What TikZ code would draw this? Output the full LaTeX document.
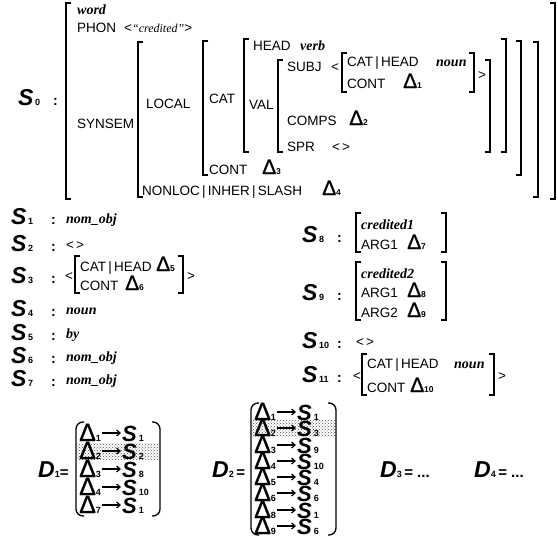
\documentclass[tikz,border=0pt]{standalone}
\usepackage{fontspec}
\setmainfont{Liberation Serif}
\newfontfamily\featfont{Liberation Sans}
\newfontfamily\labfont{Liberation Sans}
\newfontfamily\trifont[FakeBold=0.9]{Liberation Sans}
\usepackage{tikz}
\usetikzlibrary{arrows.meta,patterns}
\newcommand{\dl}[1]{{\trifont\fontsize{21}{21}\selectfont Δ}{\fontsize{8.5}{9}\selectfont\bfseries #1}}
\newcommand{\stag}[1]{{\fontsize{23}{23}\selectfont\bfseries\itshape S}\kern1.5pt{\fontsize{9}{9}\selectfont\bfseries #1}}
\newcommand{\dtag}[1]{{\fontsize{23}{23}\selectfont\bfseries\itshape D}{\fontsize{9}{9}\selectfont\bfseries #1}}
\newcommand{\bigdl}[1]{{\trifont\fontsize{25}{25}\selectfont Δ}{\fontsize{9}{9}\selectfont\bfseries #1}}
\newcommand{\bigs}[1]{{\fontsize{22}{22}\selectfont\bfseries\itshape S}\kern2pt{\fontsize{9}{9}\selectfont\bfseries #1}}

\begin{document}
\begin{tikzpicture}[
x=1pt,y=-1pt,
feat/.style={font=\featfont\fontsize{13.5}{15}\selectfont,anchor=base west,inner sep=0pt},
typ/.style={font=\bfseries\itshape\fontsize{14}{15}\selectfont,anchor=base west,inner sep=0pt},
tag/.style={font=\labfont,anchor=base west,inner sep=0pt},
colon/.style={font=\labfont\bfseries\fontsize{14}{14}\selectfont,anchor=base west,inner sep=0pt},
brk/.style={line width=1.2pt},
paren/.style={line width=1.3pt,rounded corners=7pt},
ent/.style={font=\labfont,anchor=west,inner sep=1pt,text height=17pt,text depth=1pt},
darr/.style={-{Straight Barb[length=3.5pt,width=6pt]},line width=1.2pt},
shade/.style={pattern=crosshatch dots,pattern color=black!70}
]
\useasboundingbox (0,0) rectangle (558,542);

% S0
\node[tag] (s0) at (18,105) {\stag{0}};
\node[colon] (s0c) at (53,105) {:};
\draw[brk] (71,3) -| (66,199) -- (71,199);
\draw[brk] (550,3) -| (555,199) -- (550,199);
\node[typ] (word) at (77,14) {word};
\node[feat] (phon) at (77,32) {PHON};
\node[feat] (phonv) at (124,32) {<{\rmfamily\itshape\fontsize{12}{13}\selectfont “credited”}>};
\node[feat] (synsem) at (77,128) {SYNSEM};
\draw[brk] (143,42) -| (138,197) -- (143,197);
\draw[brk] (533,42) -| (538,197) -- (533,197);
\node[feat] (local) at (146,108) {LOCAL};
\draw[brk] (208,41) -| (203,175) -- (208,175);
\draw[brk] (516,41) -| (521,175) -- (516,175);
\node[feat] (cat) at (209,103) {CAT};
\draw[brk] (249,39) -| (244,152) -- (249,152);
\draw[brk] (501,39) -| (506,152) -- (501,152);
\node[feat] (head) at (253,50) {HEAD};
\node[typ] (verb) at (300,50) {verb};
\node[feat] (val) at (249,109) {VAL};
\draw[brk] (283,60) -| (278,152) -- (283,152);
\draw[brk] (485,60) -| (490,152) -- (485,152);
\node[feat] (subj) at (287,71) {SUBJ};
\node[feat] (subjl) at (331,71) {<};
\draw[brk] (347,53) -| (342,92) -- (347,92);
\draw[brk] (469,53) -| (474,92) -- (469,92);
\node[feat] (cathead) at (347,66) {CAT\,|\,HEAD};
\node[typ] (noun1) at (436,66) {noun};
\node[feat] (cont1) at (347,88) {CONT};
\node[feat] (d1) at (403,88) {\dl{1}};
\node[feat] (subjr) at (478,79) {>};
\node[feat] (comps) at (287,125) {COMPS};
\node[feat] (d2) at (349,125) {\dl{2}};
\node[feat] (spr) at (287,151) {SPR};
\node[feat] (sprv) at (332,151) {<\kern2pt>};
\node[feat] (cont3) at (209,174) {CONT};
\node[feat] (d3) at (262,174) {\dl{3}};
\node[feat] (slash) at (142,195) {NONLOC\,|\,INHER\,|\,SLASH};
\node[feat] (d4) at (322,195) {\dl{4}};

% S1 - S7
\node[tag] (s1) at (11,224) {\stag{1}};
\node[colon] (s1c) at (51,224) {:};
\node[typ] (s1v) at (66,223) {nom\_obj};
\node[tag] (s2) at (11,251) {\stag{2}};
\node[colon] (s2c) at (51,251) {:};
\node[feat] (s2v) at (66,249) {<\kern2pt>};
\node[tag] (s3) at (11,283) {\stag{3}};
\node[colon] (s3c) at (51,283) {:};
\node[feat] (s3l) at (65,280) {<};
\draw[brk] (80,256) -| (75,293) -- (80,293);
\draw[brk] (178,256) -| (183,293) -- (178,293);
\node[feat] (s3a) at (80,271) {CAT\,|\,HEAD};
\node[feat] (d5) at (156,271) {\dl{5}};
\node[feat] (s3b) at (80,290) {CONT};
\node[feat] (d6) at (125,290) {\dl{6}};
\node[feat] (s3r) at (187,280) {>};
\node[tag] (s4) at (11,316) {\stag{4}};
\node[colon] (s4c) at (51,316) {:};
\node[typ] (s4v) at (66,314) {noun};
\node[tag] (s5) at (11,340) {\stag{5}};
\node[colon] (s5c) at (51,340) {:};
\node[typ] (s5v) at (66,338) {by};
\node[tag] (s6) at (11,363) {\stag{6}};
\node[colon] (s6c) at (51,363) {:};
\node[typ] (s6v) at (66,361) {nom\_obj};
\node[tag] (s7) at (11,386) {\stag{7}};
\node[colon] (s7c) at (51,386) {:};
\node[typ] (s7v) at (66,384) {nom\_obj};

% S8 - S11
\node[tag] (s8) at (302,242) {\stag{8}};
\node[colon] (s8c) at (337,242) {:};
\draw[brk] (361,213) -| (356,252) -- (361,252);
\draw[brk] (441,213) -| (446,252) -- (441,252);
\node[typ] (s8a) at (361,229) {credited1};
\node[feat] (s8b) at (361,249) {ARG1};
\node[feat] (d7) at (407,249) {\dl{7}};
\node[tag] (s9) at (302,300) {\stag{9}};
\node[colon] (s9c) at (337,300) {:};
\draw[brk] (361,262) -| (356,320) -- (361,320);
\draw[brk] (441,262) -| (446,320) -- (441,320);
\node[typ] (s9a) at (361,278) {credited2};
\node[feat] (s9b) at (361,297) {ARG1};
\node[feat] (d8) at (407,297) {\dl{8}};
\node[feat] (s9d) at (361,317) {ARG2};
\node[feat] (d9) at (407,317) {\dl{9}};
\node[tag] (s10) at (302,348) {\stag{10}};
\node[colon] (s10c) at (337,348) {:};
\node[feat] (s10v) at (356,346) {<\kern2pt>};
\node[tag] (s11) at (302,382) {\stag{11}};
\node[colon] (s11c) at (337,382) {:};
\node[feat] (s11l) at (353,380) {<};
\draw[brk] (367,354) -| (362,395) -- (367,395);
\draw[brk] (489,354) -| (494,395) -- (489,395);
\node[feat] (s11a) at (367,368) {CAT\,|\,HEAD};
\node[typ] (noun2) at (454,368) {noun};
\node[feat] (s11b) at (367,392) {CONT};
\node[feat] (d10) at (410,392) {\dl{10}};
\node[feat] (s11r) at (498,380) {>};

% D1
\node[tag] (dd1) at (38,477) {\dtag{1}{\bfseries\fontsize{15}{15}\selectfont =}};
\fill[shade] (77,443) rectangle (159,459);
\draw[paren] (84,422) -| (76,516) -- (84,516);
\draw[paren] (152,422) -| (160,516) -- (152,516);
\node[ent] (a1) at (78,433) {\bigdl{1}};
\node[ent] (b1) at (121,433) {\bigs{1}};
\node[ent] (a2) at (78,451) {\bigdl{2}};
\node[ent] (b2) at (121,451) {\bigs{2}};
\node[ent] (a3) at (78,469) {\bigdl{3}};
\node[ent] (b3) at (121,469) {\bigs{8}};
\node[ent] (a4) at (78,487) {\bigdl{4}};
\node[ent] (b4) at (121,487) {\bigs{10}};
\node[ent] (a5) at (78,505) {\bigdl{7}};
\node[ent] (b5) at (121,505) {\bigs{1}};
\draw[darr] (a1) -- (b1);
\draw[darr] (a2) -- (b2);
\draw[darr] (a3) -- (b3);
\draw[darr] (a4) -- (b4);
\draw[darr] (a5) -- (b5);

% D2
\node[tag] (dd2) at (212,477) {\dtag{2}{\bfseries\fontsize{15}{15}\selectfont\,=}};
\fill[shade] (252,420) rectangle (335,436);
\draw[paren] (259,403) -| (251,535) -- (259,535);
\draw[paren] (328,403) -| (336,535) -- (328,535);
\node[ent] (e1) at (253,412) {\bigdl{1}};
\node[ent] (f1) at (296,412) {\bigs{1}};
\node[ent] (e2) at (253,428) {\bigdl{2}};
\node[ent] (f2) at (296,428) {\bigs{3}};
\node[ent] (e3) at (253,445) {\bigdl{3}};
\node[ent] (f3) at (296,445) {\bigs{9}};
\node[ent] (e4) at (253,461) {\bigdl{4}};
\node[ent] (f4) at (296,461) {\bigs{10}};
\node[ent] (e5) at (253,477) {\bigdl{5}};
\node[ent] (f5) at (296,477) {\bigs{4}};
\node[ent] (e6) at (253,493) {\bigdl{6}};
\node[ent] (f6) at (296,493) {\bigs{6}};
\node[ent] (e7) at (253,510) {\bigdl{8}};
\node[ent] (f7) at (296,510) {\bigs{1}};
\node[ent] (e8) at (253,526) {\bigdl{9}};
\node[ent] (f8) at (296,526) {\bigs{6}};
\draw[darr] (e1) -- (f1);
\draw[darr] (e2) -- (f2);
\draw[darr] (e3) -- (f3);
\draw[darr] (e4) -- (f4);
\draw[darr] (e5) -- (f5);
\draw[darr] (e6) -- (f6);
\draw[darr] (e7) -- (f7);
\draw[darr] (e8) -- (f8);

% D3, D4
\node[tag] (dd3) at (380,477) {\dtag{3}{\bfseries\fontsize{15}{15}\selectfont\,= ...}};
\node[tag] (dd4) at (474,477) {\dtag{4}{\bfseries\fontsize{15}{15}\selectfont\,= ...}};
\end{tikzpicture}
\end{document}
